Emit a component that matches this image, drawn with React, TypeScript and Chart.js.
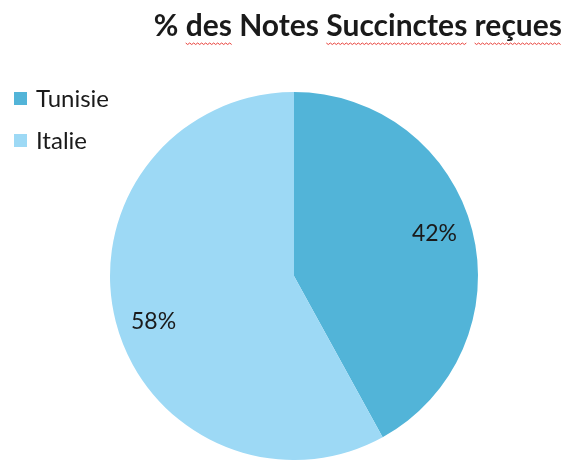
import React, { useEffect, useRef } from "react";
import { Chart, registerables } from "chart.js";

Chart.register(...registerables);

const categories = ["Tunisie", "Italie"];
const values = [42, 58];
const valueLabels = ["42%", "58%"];
const colors = ["#52B4D8", "#9DD9F5"];
const titleText = "% des Notes Succinctes reçues";
const misspelledWords = ["des", "Succinctes", "reçues"];

const FONT = "Lato, 'Open Sans', sans-serif";

const overlay = {
  id: "overlay",
  afterDraw(chart: any) {
    const ctx = chart.ctx as CanvasRenderingContext2D;
    ctx.save();
    // title, right aligned
    ctx.font = `bold 30px ${FONT}`;
    ctx.fillStyle = "#1a1a1a";
    ctx.textBaseline = "alphabetic";
    ctx.textAlign = "left";
    const tw = ctx.measureText(titleText).width;
    const tx = 562 - tw;
    const ty = 36;
    ctx.fillText(titleText, tx, ty);
    // spell-check squiggles
    ctx.strokeStyle = "#e8403a";
    ctx.lineWidth = 1;
    const words = titleText.split(" ");
    let cx = tx;
    const spaceW = ctx.measureText(" ").width;
    words.forEach((w) => {
      const ww = ctx.measureText(w).width;
      if (misspelledWords.includes(w)) {
        ctx.beginPath();
        for (let x = 0; x <= ww; x += 2) {
          const y = ty + 7 + ((x / 2) % 2 === 0 ? 0 : 1.5);
          if (x === 0) ctx.moveTo(cx + x, y);
          else ctx.lineTo(cx + x, y);
        }
        ctx.stroke();
      }
      cx += ww + spaceW;
    });

    // legend
    ctx.font = `24px ${FONT}`;
    ctx.textBaseline = "middle";
    categories.forEach((c, i) => {
      const y = 99 + i * 42;
      ctx.fillStyle = colors[i];
      ctx.fillRect(14, y - 7, 13, 13);
      ctx.fillStyle = "#1a1a1a";
      ctx.fillText(c, 36, y);
    });

    // data labels
    const meta = chart.getDatasetMeta(0);
    ctx.font = `23px ${FONT}`;
    ctx.textAlign = "center";
    ctx.fillStyle = "#1a1a1a";
    meta.data.forEach((arc: any, i: number) => {
      const { x, y, startAngle, endAngle, outerRadius } = arc.getProps(
        ["x", "y", "startAngle", "endAngle", "outerRadius"],
        true
      );
      const mid = (startAngle + endAngle) / 2 - (3 * Math.PI) / 180;
      const r = outerRadius * 0.8;
      ctx.fillText(valueLabels[i], x + Math.cos(mid) * r, y + 2 + Math.sin(mid) * r);
    });
    ctx.restore();
  },
};

export default function App() {
  const ref = useRef<HTMLCanvasElement>(null);
  useEffect(() => {
    document.body.style.margin = "0";
    const chart = new Chart(ref.current!, {
      type: "pie",
      data: {
        labels: categories,
        datasets: [
          {
            data: values,
            backgroundColor: colors,
            borderWidth: 0,
          },
        ],
      },
      options: {
        animation: false,
        responsive: false,
        layout: { padding: { top: 92, left: 110, right: 90, bottom: 0 } },
        plugins: {
          legend: { display: false },
          title: { display: false },
          tooltip: { enabled: false },
        },
      },
      plugins: [overlay],
    });
    return () => chart.destroy();
  }, []);
  return (
    <div style={{ width: 568, height: 460, background: "#fff" }}>
      <canvas ref={ref} width={568} height={460} />
    </div>
  );
}
